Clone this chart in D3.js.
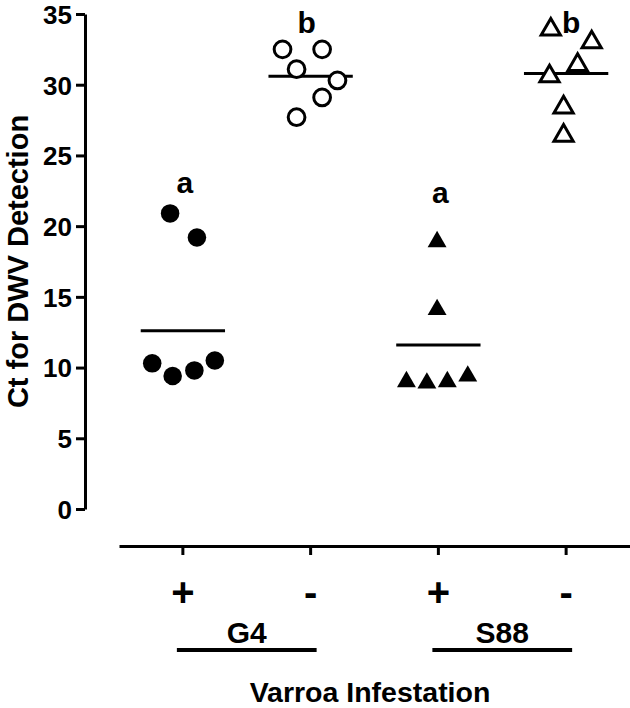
<!DOCTYPE html>
<html><head><meta charset="utf-8">
<script src="https://cdn.jsdelivr.net/npm/d3@7/dist/d3.min.js"></script>
<style>body{margin:0;background:#fff}svg{display:block}text{font-family:"Liberation Sans",Arial,sans-serif;font-weight:bold;fill:#000}</style>
</head><body><svg id="c" width="630" height="708"></svg>
<script>
const categories = ["G4+", "G4-", "S88+", "S88-"];
const signLabels = ["+", "-", "+", "-"];
const groups = ["G4", "S88"];
const yTicks = [0, 5, 10, 15, 20, 25, 30, 35];
const g4Plus  = [20.9, 19.2, 10.3, 9.4, 9.8, 10.5];
const g4Minus = [32.5, 32.5, 31.1, 30.3, 29.1, 27.7];
const s88Plus = [18.9, 14.1, 9.0, 8.9, 9.0, 9.4];
const s88Minus= [33.9, 33.0, 31.4, 30.6, 28.4, 26.4];
const means = [12.6, 30.6, 11.6, 30.8];
const sigLetters = ["a", "b", "a", "b"];
const sigLetterAt = [23.1, 34.4, 22.4, 34.4];
// horizontal spread of points within each column (fraction of band)
const spread = [
  [-0.10, 0.11, -0.24, -0.08, 0.09, 0.25],
  [-0.22, 0.09, -0.11, 0.21, 0.09, -0.11],
  [-0.01, -0.01, -0.25, -0.09, 0.07, 0.23],
  [-0.12, 0.20, 0.09, -0.13, -0.02, -0.02]
];
const series = [g4Plus, g4Minus, s88Plus, s88Minus];
const symbols = [d3.symbolCircle, d3.symbolCircle, d3.symbolTriangle, d3.symbolTriangle];
const filled = [true, false, true, false];

const svg = d3.select("#c");
const x = d3.scaleBand().domain(categories).range([119, 630]).padding(0);
const y = d3.scaleLinear().domain([0, 35]).range([509, 14]);
const bw = x.bandwidth();
const cx = c => x(c) + bw / 2;

// y axis
const ya = svg.append("g").attr("transform", "translate(85,0)")
  .call(d3.axisLeft(y).tickValues(yTicks).tickSize(9).tickPadding(4).tickSizeOuter(0));
ya.select(".domain").attr("stroke", "#000").attr("stroke-width", 3);
ya.selectAll(".tick line").attr("stroke", "#000").attr("stroke-width", 3);
ya.selectAll(".tick text").style("font-size", "26px").attr("fill", "#000").attr("dy", "0.36em");

// x axis
const xa = svg.append("g").attr("transform", "translate(0,546)")
  .call(d3.axisBottom(x).tickSize(9).tickSizeOuter(0).tickFormat(""));
xa.select(".domain").attr("stroke", "#000").attr("stroke-width", 3);
xa.selectAll(".tick line").attr("stroke", "#000").attr("stroke-width", 3);

svg.selectAll(".sign").data(categories).join("text").attr("class", "sign")
  .attr("x", c => cx(c)).attr("y", 606).attr("text-anchor", "middle")
  .style("font-size", "40px").text((c, i) => signLabels[i]);

groups.forEach((g, gi) => {
  const a = categories[gi * 2], b = categories[gi * 2 + 1];
  const mid = (cx(a) + cx(b)) / 2;
  svg.append("text").attr("x", mid).attr("y", 643).attr("text-anchor", "middle")
    .style("font-size", "30px").text(g);
  svg.append("line").attr("x1", cx(a) - 6).attr("x2", cx(b) + 6)
    .attr("y1", 650).attr("y2", 650).attr("stroke", "#000").attr("stroke-width", 4);
});

svg.append("text").attr("x", 370).attr("y", 702).attr("text-anchor", "middle")
  .style("font-size", "28.5px").text("Varroa Infestation");

svg.append("text").attr("transform", `translate(28,${(y(0) + y(35)) / 2}) rotate(-90)`)
  .attr("text-anchor", "middle").style("font-size", "29px").text("Ct for DWV Detection");

// mean lines
svg.selectAll(".mean").data(categories).join("line").attr("class", "mean")
  .attr("x1", c => cx(c) - bw * 0.33).attr("x2", c => cx(c) + bw * 0.33)
  .attr("y1", (c, i) => y(means[i])).attr("y2", (c, i) => y(means[i]))
  .attr("stroke", "#000").attr("stroke-width", 3);

// points
categories.forEach((c, i) => {
  const sym = d3.symbol().type(symbols[i]).size(symbols[i] === d3.symbolCircle ? (filled[i] ? 270 : 220) : (filled[i] ? 155 : 160));
  svg.append("g").selectAll("path").data(series[i]).join("path")
    .attr("d", sym)
    .attr("transform", (v, j) => `translate(${cx(c) + spread[i][j] * bw},${y(v)})`)
    .attr("fill", filled[i] ? "#000" : "#fff")
    .attr("stroke", "#000").attr("stroke-width", filled[i] ? 0 : 3);
});

// significance letters
svg.selectAll(".sig").data(categories).join("text").attr("class", "sig")
  .attr("x", (c, i) => cx(c) + (i === 3 ? 5 : (i === 1 ? -4 : 2)))
  .attr("y", (c, i) => y(sigLetterAt[i])).attr("dy", "0.36em").attr("text-anchor", "middle")
  .style("font-size", "30px").text((c, i) => sigLetters[i]);
</script></body></html>
